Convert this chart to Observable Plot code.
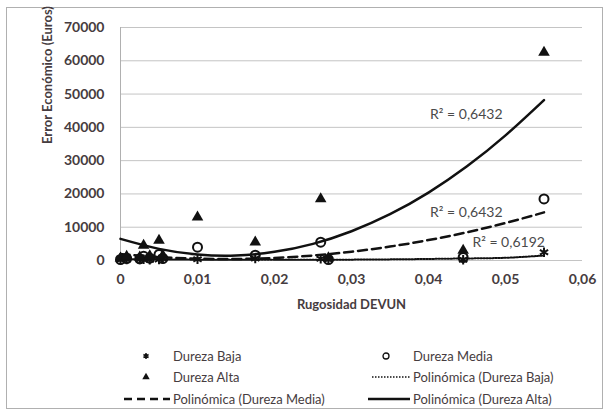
<!DOCTYPE html>
<html>
<head>
<meta charset="utf-8">
<script src="https://cdn.jsdelivr.net/npm/d3@7"></script>
<script src="https://cdn.jsdelivr.net/npm/@observablehq/plot@0.6"></script>
<style>
  body { margin: 0; background: #fff; font-family: Lato, "Open Sans", sans-serif; }
  #chart { position: relative; width: 608px; height: 415px; overflow: hidden; }
  #frame { position: absolute; left: 6px; top: 7px; width: 597px; height: 402px; border: 1px solid #b0b0b0; box-sizing: border-box; }
  #plot { position: absolute; left: 0; top: 0; }
  .leg { position: absolute; font-size: 13px; color: #463c40; white-space: nowrap; line-height: 16px; }
  .key { position: absolute; }
</style>
</head>
<body>
<div id="chart">
  <div id="frame"></div>
  <div id="plot"></div>
  <div id="legend"></div>
</div>
<script>
// Roughness (DEVUN) of each sample and the economic error per hardness class
const rugosidad = [0, 0.0008, 0.0025, 0.003, 0.0038, 0.005, 0.0055, 0.01, 0.0175, 0.026, 0.027, 0.0445, 0.055];
const durezaBaja  = [200, 300, 300, 400, 200, 300, 500, 400, 600, 500, 300, 200, 2500];
const durezaMedia = [300, 600, 500, 1300, 700, 1800, 600, 4000, 1600, 5500, 300, 900, 18500];
const durezaAlta  = [700, 1200, 1000, 4500, 1400, 6000, 1500, 13000, 5500, 18500, 800, 3000, 62500];

// Second-order trend lines, sampled along the roughness range
const trendX     = [0, 0.005, 0.01, 0.015, 0.02, 0.025, 0.03, 0.035, 0.04, 0.045, 0.05, 0.055];
const trendBaja  = [450, 330, 250, 200, 190, 210, 260, 340, 460, 620, 820, 1500];
const trendMedia = [1950, 1050, 540, 450, 770, 1500, 2640, 4180, 6130, 8490, 11270, 14450];
const trendAlta  = [6500, 3500, 1800, 1500, 2600, 5000, 8800, 13900, 20400, 28300, 37600, 48200];

// R² annotations: text and anchor point
const r2Text = ["R² = 0,6432", "R² = 0,6432", "R² = 0,6192"];
const r2X    = [0.0402, 0.0402, 0.0457];
const r2Y    = [44000, 14400, 5400];

const yTicks = [0, 10000, 20000, 30000, 40000, 50000, 60000, 70000];
const xTicks = [0, 0.01, 0.02, 0.03, 0.04, 0.05, 0.06];

const legendItems = [
  {label: "Dureza Baja", key: "asterisk", col: 0, row: 0},
  {label: "Dureza Media", key: "circle", col: 1, row: 0},
  {label: "Dureza Alta", key: "triangle", col: 0, row: 1},
  {label: "Polinómica (Dureza Baja)", key: "dotted", col: 1, row: 1},
  {label: "Polinómica (Dureza Media)", key: "dashed", col: 0, row: 2},
  {label: "Polinómica (Dureza Alta)", key: "solid", col: 1, row: 2}
];

const ink = "#111";
const textColor = "#463c40";

const pts = (ys) => rugosidad.map((x, i) => ({x, y: ys[i]}));
const curve = (ys) => trendX.map((x, i) => ({x, y: ys[i]}));
const fmtX = (d) => d === 0 ? "0" : d.toFixed(2).replace(".", ",");

const chart = Plot.plot({
  width: 608,
  height: 320,
  marginLeft: 120,
  marginRight: 26,
  marginTop: 27,
  marginBottom: 60,
  style: {fontFamily: "Lato, 'Open Sans', sans-serif", color: textColor, background: "transparent"},
  x: {domain: [0, 0.06]},
  y: {domain: [0, 70000]},
  marks: [
    Plot.gridY(yTicks, {stroke: "#c4c4c4", strokeOpacity: 1, strokeWidth: 1}),
    Plot.ruleX([0], {stroke: "#b0b0b0"}),
    Plot.axisY(yTicks, {tickSize: 0, tickPadding: 16, label: null, fontSize: 14, fontWeight: "bold", tickFormat: (d) => String(d)}),
    Plot.axisX(xTicks, {tickSize: 0, tickPadding: 14, label: null, fontSize: 14, fontWeight: "bold", tickFormat: fmtX}),
    Plot.text(["Rugosidad DEVUN"], {frameAnchor: "bottom", dy: 48, fontSize: 13, fontWeight: "bold", fill: textColor}),
    Plot.text(["Error Económico (Euros)"], {frameAnchor: "left", dx: -73, rotate: -90, fontSize: 13, fontWeight: "bold", fill: textColor}),
    Plot.line(curve(trendBaja), {x: "x", y: "y", curve: "natural", stroke: ink, strokeWidth: 2, strokeDasharray: "1.5,1.5"}),
    Plot.line(curve(trendMedia), {x: "x", y: "y", curve: "natural", stroke: ink, strokeWidth: 2.5, strokeDasharray: "9,5"}),
    Plot.line(curve(trendAlta), {x: "x", y: "y", curve: "natural", stroke: ink, strokeWidth: 2.5}),
    Plot.dot(pts(durezaBaja), {x: "x", y: "y", symbol: "asterisk", r: 4.5, stroke: ink, strokeWidth: 2}),
    Plot.dot(pts(durezaMedia), {x: "x", y: "y", symbol: "circle", r: 4.5, stroke: ink, strokeWidth: 2, fill: "none"}),
    Plot.dot(pts(durezaAlta), {x: "x", y: "y", symbol: "triangle", r: 4.3, fill: ink, stroke: "none"}),
    Plot.text(r2Text.map((t, i) => ({t, x: r2X[i], y: r2Y[i]})), {x: "x", y: "y", text: "t", textAnchor: "start", fontSize: 14, fill: "#4a4a4a"})
  ]
});
document.getElementById("plot").appendChild(chart);

// Legend below the chart: two columns, three rows
const legend = d3.select("#legend");
const colText = [173, 413];
const rowY = [356, 377, 399];
for (const it of legendItems) {
  const cy = rowY[it.row];
  legend.append("div").attr("class", "leg")
    .style("left", colText[it.col] + "px").style("top", (cy - 8) + "px")
    .text(it.label);
  const keyW = 50;
  const kx = colText[it.col] - keyW - 3;
  const svg = legend.append("svg").attr("class", "key")
    .attr("width", keyW).attr("height", 14)
    .style("left", kx + "px").style("top", (cy - 7) + "px");
  const mid = keyW - 24;
  if (it.key === "asterisk") {
    svg.append("path").attr("d", d3.symbol(d3.symbolAsterisk, 24)()).attr("transform", `translate(${mid},7)`).attr("stroke", ink).attr("stroke-width", 1.5).attr("fill", "none");
  } else if (it.key === "circle") {
    svg.append("circle").attr("cx", mid).attr("cy", 7).attr("r", 3).attr("stroke", ink).attr("stroke-width", 1.3).attr("fill", "none");
  } else if (it.key === "triangle") {
    svg.append("path").attr("d", d3.symbol(d3.symbolTriangle, 24)()).attr("transform", `translate(${mid},7)`).attr("fill", ink);
  } else {
    const x0 = it.key === "dashed" ? 4 : (it.key === "dotted" ? 12 : 8);
    const dash = it.key === "dashed" ? "8,5" : (it.key === "dotted" ? "1.5,1.5" : null);
    svg.append("line").attr("x1", x0).attr("x2", keyW).attr("y1", 7).attr("y2", 7)
      .attr("stroke", ink).attr("stroke-width", it.key === "dotted" ? 1.5 : 2.5)
      .attr("stroke-dasharray", dash);
  }
}
</script>
</body>
</html>
